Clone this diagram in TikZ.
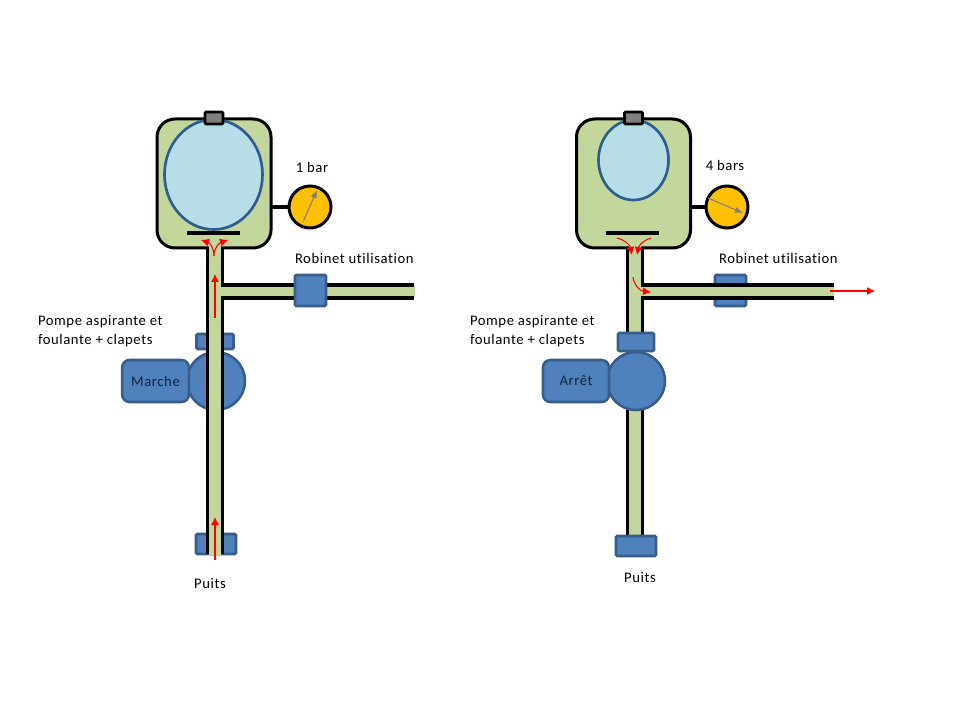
\documentclass[tikz,border=0pt]{standalone}
\usepackage{fontspec}
\setmainfont[LetterSpace=4,Ligatures=NoCommon]{Carlito}
\usetikzlibrary{arrows.meta,positioning,shapes.geometric}
\definecolor{pipegreen}{RGB}{195,214,155}
\definecolor{bubbleblue}{RGB}{183,222,232}
\definecolor{bubbleedge}{RGB}{47,94,142}
\definecolor{partblue}{RGB}{79,129,189}
\definecolor{partedge}{RGB}{56,93,138}
\definecolor{gaugeyellow}{RGB}{255,192,0}
\definecolor{motortext}{RGB}{15,36,62}
\tikzset{
  tank/.style={draw=black,line width=2.25pt,fill=pipegreen,rounded corners=13.5pt,minimum width=85.5pt,minimum height=96.75pt},
  bubble/.style={draw=bubbleedge,line width=2pt,fill=bubbleblue,ellipse},
  topcap/.style={draw=black,line width=2pt,fill=black!50,rounded corners=.8pt,minimum width=13.5pt,minimum height=9pt},
  gauge/.style={draw=black,line width=2.25pt,fill=gaugeyellow,circle,minimum size=31.5pt},
  part/.style={draw=partedge,line width=1.9pt,fill=partblue,rounded corners=.8pt},
  pump/.style={part,circle,minimum size=43.5pt},
  motor/.style={part,rounded corners=5.5pt,minimum height=31.5pt,text=motortext},
  lbl/.style={align=left,inner sep=0pt,font=\fontsize{11}{14.2}\selectfont},
  wall/.style={draw=black,line width=2.3pt},
  water/.style={fill=pipegreen},
  flow/.style={draw=red,line width=.76pt,-{Latex[length=6pt,width=6pt]}},
  needle/.style={draw=black!50,line width=.8pt,-{Latex[length=6pt,width=5pt]}},
}
\begin{document}
\begin{tikzpicture}[x=.75pt,y=-.75pt,inner sep=0pt,outer sep=0pt]
  \useasboundingbox (0,0) rectangle (960,720);
  % installation on the left
  \node[part,minimum width=27.75pt,minimum height=11.25pt] (flangel) at (215,341.5) {};
  \node[part,minimum width=30pt,minimum height=15pt] (footl) at (216,544) {};
  \node[pump] (pumpl) at (216,381) {};
  \node[motor,minimum width=50pt,font=\fontsize{11}{12}\selectfont] (motorl) at (155.5,381) {Marche};
  \node[tank] (tankl) at (214,183.5) {};
  \node[bubble,minimum width=73.5pt,minimum height=82.5pt] (bubblel) at (213.5,174.5) {};
  \node[topcap] (capl) at (214,118) {};
  \node[gauge] (gaugel) at (310,207) {};
  \draw[wall] (tankl.east |- gaugel) -- (gaugel);
  \fill[water] (209,246) rectangle (221,555);
  \fill[water] (219,286) rectangle (415,297);
  \draw[wall] (207.5,247) -- (207.5,554);
  \draw[wall] (222.5,247) -- (222.5,285) -- (414,285);
  \draw[wall] (414,298) -- (222.5,298) -- (222.5,554);
  \node[part,minimum size=23.25pt] (valvel) at (310.5,290.5) {};
  \draw[black,line width=2.6pt] (187,233) -- (240,233);
  \coordinate (needlela) at (303,222);
  \coordinate (needlelb) at (317,190);
  \draw[needle] (needlela) -- (needlelb);
  \node[lbl] (barl) at (312,167) {1 bar};
  \node[lbl,anchor=west] (robinetl) at (295,258) {Robinet utilisation};
  \node[lbl,anchor=west] (pompel) at (38,331) {Pompe aspirante et\\foulante + clapets};
  \node[lbl] (puitsl) at (210,584) {Puits};
  \draw[flow] (215,560) -- (215,517);
  \draw[flow] (215,318) -- (215,274);
  \draw[flow] (214,256) .. controls (214,248) and (210,243) .. (201,240);
  \draw[flow] (214,256) .. controls (214,248) and (219,243) .. (228,240);
  % installation on the right
  \node[tank] (tankr) at (633.5,183.5) {};
  \node[bubble,minimum width=52.5pt,minimum height=60pt] (bubbler) at (633.5,160) {};
  \node[topcap] (capr) at (633.5,118) {};
  \node[gauge] (gauger) at (727,207) {};
  \draw[wall] (tankr.east |- gauger) -- (gauger);
  \node[part,minimum size=23.25pt] (valver) at (730.5,290.5) {};
  \fill[water] (629,246) rectangle (641,540);
  \fill[water] (639,286) rectangle (834,297);
  \draw[wall] (627.5,247) -- (627.5,540);
  \draw[wall] (642.5,247) -- (642.5,285) -- (834,285);
  \draw[wall] (834,298) -- (642.5,298) -- (642.5,540);
  \node[part,minimum width=27pt,minimum height=13.5pt] (flanger) at (636,342) {};
  \node[part,minimum width=30pt,minimum height=15pt] (footr) at (636,546) {};
  \node[pump] (pumpr) at (636,381) {};
  \node[motor,minimum width=49.5pt,font=\fontsize{11}{12}\selectfont] (motorr) at (576,381) {Arrêt};
  \draw[black,line width=2.6pt] (606,233) -- (659,233);
  \coordinate (needlera) at (708,198);
  \coordinate (needlerb) at (743,213);
  \draw[needle] (needlera) -- (needlerb);
  \node[lbl] (barr) at (725,165) {4 bars};
  \node[lbl,anchor=west] (robinetr) at (719,258) {Robinet utilisation};
  \node[lbl,anchor=west] (pomper) at (470,331) {Pompe aspirante et\\foulante + clapets};
  \node[lbl] (puitsr) at (640,578) {Puits};
  \draw[flow] (617,238) .. controls (625,240) and (630,245) .. (632,255);
  \draw[flow] (651,238) .. controls (644,240) and (639,245) .. (637,255);
  \draw[flow] (633,277) .. controls (634,285) and (640,291) .. (651,292);
  \draw[flow] (830,291) -- (875,291);
\end{tikzpicture}
\end{document}
